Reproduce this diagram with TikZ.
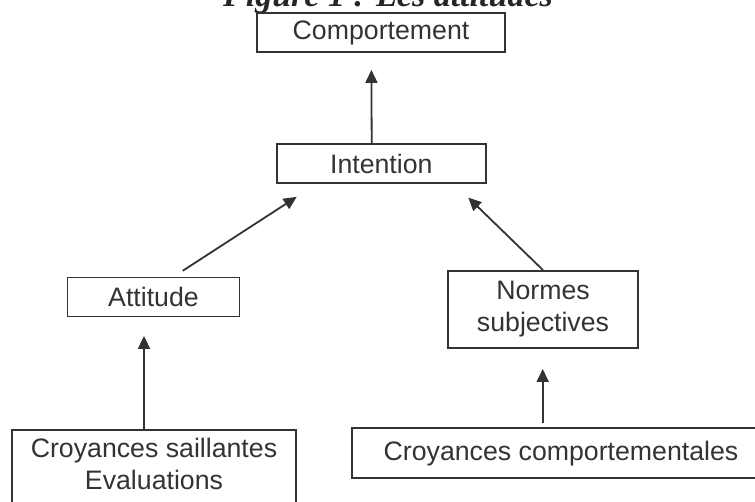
\documentclass[tikz,border=0pt]{standalone}
\usepackage{fontspec}
\setmainfont{Liberation Sans}
\newfontfamily\titlefont{Liberation Serif}
\usetikzlibrary{arrows.meta}

\begin{document}
\begin{tikzpicture}[
    x=1pt, y=-1pt,
    box/.style={draw=black!80, line width=1.8pt, inner sep=0pt, align=center, text=black!80,
      font=\fontsize{26.7}{32}\selectfont},
    arrow/.style={-{Triangle[length=13pt, width=12pt]}, line width=1.8pt, draw=black!80}
  ]
    \useasboundingbox (0,0) rectangle (755,501);
    \node[font=\titlefont\bfseries\itshape\fontsize{34}{40}\selectfont, text=black!85, anchor=base] (title) at (388,6) {Figure 1 : Les attitudes};

    \node[box, minimum width=248, minimum height=39] (comportement) at (381,32.5) {Comportement};
    \node[box, minimum width=209, minimum height=39] (intention) at (381.3,163.8) {Intention};
    \node[box, minimum width=172, minimum height=39] (attitude) at (153.5,297) {Attitude};
    \node[box, minimum width=190, minimum height=77] (normes) at (543,309.5) {Normes\\subjectives};
    \node[box, minimum width=284, anchor=north, inner ysep=8pt, text depth=60pt] (saillantes) at (154,429) {Croyances saillantes\\Evaluations};
    \node[box, minimum width=418, minimum height=50] (comportementales) at (561,453.3) {Croyances comportementales};

    \draw[arrow] ([xshift=-9.6pt]intention.north) -- ([shift={(-9.6,17)}]comportement.south);
    \draw[arrow] ([shift={(29.2,-5.8)}]attitude.north) -- ([shift={(-84.6,12.7)}]intention.south);
    \draw[arrow] (normes.north) -- ([shift={(87,13.4)}]intention.south);
    \draw[arrow] ([shift={(-10,1)}]saillantes.north) -- ([shift={(-9.5,18.5)}]attitude.south);
    \draw[arrow] ([shift={(-18.3,-4)}]comportementales.north) -- ([shift={(-0.3,20)}]normes.south);
\end{tikzpicture}
\end{document}
